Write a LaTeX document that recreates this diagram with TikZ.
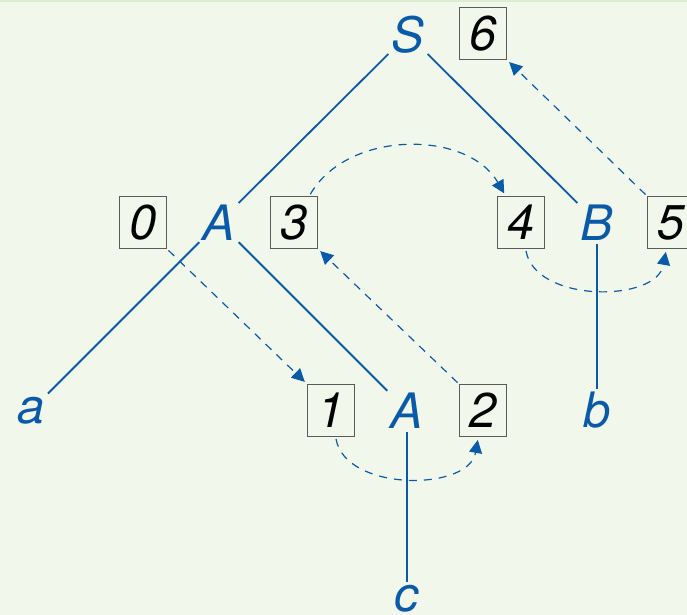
\documentclass[tikz,border=0pt]{standalone}
\usepackage{fontspec}
\setmainfont{TeX Gyre Heros}
\usetikzlibrary{arrows.meta}

\definecolor{treeblue}{RGB}{10,90,170}
\definecolor{framebg}{RGB}{242,247,236}
\definecolor{framebar}{RGB}{222,236,210}
\definecolor{boxgray}{RGB}{90,90,90}

\begin{document}
\begin{tikzpicture}[font=\fontsize{24.4}{29}\selectfont\itshape,
  sym/.style={text=treeblue, inner sep=1.5pt},
  numbox/.style={draw=boxgray, line width=0.5pt, minimum width=23.5pt, minimum height=26pt, inner sep=0pt},
  trail/.style={draw=treeblue, line width=0.6pt, dash pattern=on 4pt off 3.5pt,
    -{Triangle[length=6.5pt,width=6.5pt]}, shorten <=1pt, shorten >=1.5pt},
  level distance=94pt,
  level 1/.style={sibling distance=189pt},
  level 2/.style={sibling distance=188pt},
  edge from parent/.style={draw=none}]

\useasboundingbox (0,0) rectangle (343.5pt,-307.5pt);
\fill[framebg] (0,0) rectangle (343.5pt,-307.5pt);
\fill[framebar] (0,0) rectangle (343.5pt,-1.25pt);

\node [sym] (S) at (204pt,-17.25pt) {S}
  child {node [sym] (A1) {A}
    child {node [sym] (a) {a}}
    child {node [sym] (A2) {A}
      child {node [sym] (c) {c}}
    }
  }
  child {node [sym] (B) {B}
    child {node [sym] (b) {b}}
  };

\draw [treeblue, line width=0.9pt] (S) -- (A1);
\draw [treeblue, line width=0.9pt] (S) -- (B);
\draw [treeblue, line width=0.9pt] (A1) -- (a);
\draw [treeblue, line width=0.9pt] (A1) -- (A2);
\draw [treeblue, line width=0.9pt] (A2) -- (c);
\draw [treeblue, line width=0.9pt] (B) -- (b);

\node [numbox] (n0) at ([xshift=-38pt]A1.center) {0};
\node [numbox] (n3) at ([xshift=37.5pt]A1.center) {3};
\node [numbox] (n1) at ([xshift=-38pt]A2.center) {1};
\node [numbox] (n2) at ([xshift=38pt]A2.center) {2};
\node [numbox] (n4) at ([xshift=-38pt]B.center) {4};
\node [numbox] (n5) at ([xshift=37pt]B.center) {5};
\node [numbox] (n6) at ([xshift=37.5pt,yshift=0.5pt]S.center) {6};

\draw [trail] (n0.south east) -- (n1.north west);
\draw [trail] (n1) to[out=-80,in=-100] (n2);
\draw [trail] (n2.north west) -- (n3.south east);
\draw [trail] (n3) to[out=60,in=120] (n4);
\draw [trail] (n4) to[out=-80,in=-100] (n5);
\draw [trail] (n5.north west) -- (n6.south east);

\end{tikzpicture}
\end{document}
